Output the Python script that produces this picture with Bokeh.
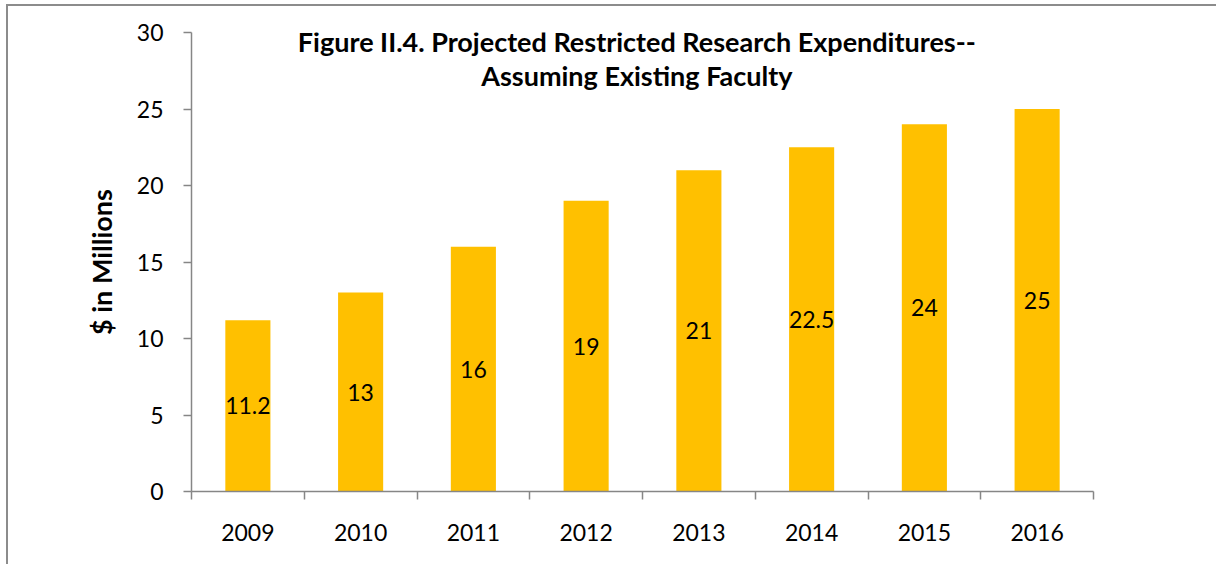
from bokeh.plotting import figure
from bokeh.models import Range1d, FixedTicker, ColumnDataSource, Label
from bokeh.embed import file_html
from bokeh.resources import INLINE
from bokeh.core.properties import value

# ---- data ----
years = ["2009", "2010", "2011", "2012", "2013", "2014", "2015", "2016"]
expenditures = [11.2, 13, 16, 19, 21, 22.5, 24, 25]
value_labels = ["11.2", "13", "16", "19", "21", "22.5", "24", "25"]
y_ticks = [0, 5, 10, 15, 20, 25, 30]
title_lines = ["Figure II.4. Projected Restricted Research Expenditures--",
               "Assuming Existing Faculty"]
y_label = "$ in Millions"

FONT = "Lato"
BAR = "#FFC000"
AXIS = "#868686"

n = len(years)
centers = [i + 0.5 for i in range(n)]
bounds = [float(i) for i in range(n + 1)]

src = ColumnDataSource(dict(
    x=centers,
    top=expenditures,
    mid=[v / 2 for v in expenditures],
    lab=value_labels,
))

p = figure(width=1210, height=560,
           x_range=Range1d(0, n), y_range=Range1d(0, y_ticks[-1]),
           output_backend="svg", toolbar_location=None,
           min_border_left=183, min_border_right=125,
           min_border_top=26, min_border_bottom=75)
p.styles = {"border-left": "2px solid #8c8c8c", "border-top": "2px solid #8c8c8c",
            "margin-left": "6px", "margin-top": "4px"}
p.outline_line_color = None
p.xgrid.visible = False
p.ygrid.visible = False
p.background_fill_color = "white"
p.border_fill_color = "white"

p.vbar(x="x", top="top", width=0.4, bottom=0, source=src,
       fill_color=BAR, line_color=None)
p.text(x="x", y="mid", text="lab", source=src,
       text_font=value(FONT), text_font_size="23px",
       text_align="center", text_baseline="middle", text_color="black")

# y axis
ya = p.yaxis[0]
ya.ticker = FixedTicker(ticks=y_ticks, minor_ticks=[])
ya.axis_line_color = AXIS
ya.axis_line_width = 1.5
ya.major_tick_line_color = AXIS
ya.major_tick_line_width = 1.5
ya.major_tick_in = 0
ya.major_tick_out = 8
ya.major_label_standoff = 20
ya.major_label_text_font = FONT
ya.major_label_text_font_size = "23px"
ya.major_label_text_color = "black"
ya.axis_label = y_label
ya.axis_label_text_font = FONT
ya.axis_label_text_font_style = "bold"
ya.axis_label_text_font_size = "27px"
ya.axis_label_text_color = "black"
ya.axis_label_standoff = 16

# x axis
xa = p.xaxis[0]
xa.ticker = FixedTicker(ticks=centers, minor_ticks=bounds)
xa.major_label_overrides = {c: y for c, y in zip(centers, years)}
xa.axis_line_color = AXIS
xa.axis_line_width = 1.5
xa.major_tick_line_color = None
xa.major_tick_in = 0
xa.major_tick_out = 8
xa.minor_tick_line_color = AXIS
xa.minor_tick_line_width = 1.5
xa.minor_tick_in = 0
xa.minor_tick_out = 8
xa.major_label_standoff = 24
xa.major_label_text_font = FONT
xa.major_label_text_font_size = "23px"
xa.major_label_text_color = "black"

# title inside plot area
title_y = [29.4, 27.2]
for line, ty in zip(title_lines, title_y):
    p.add_layout(Label(x=3.95, y=ty, text=line, text_font=FONT,
                       text_font_style="bold", text_font_size="27px",
                       text_align="center", text_baseline="alphabetic",
                       text_color="black"))

open("out.html", "w").write(file_html(p, INLINE))
